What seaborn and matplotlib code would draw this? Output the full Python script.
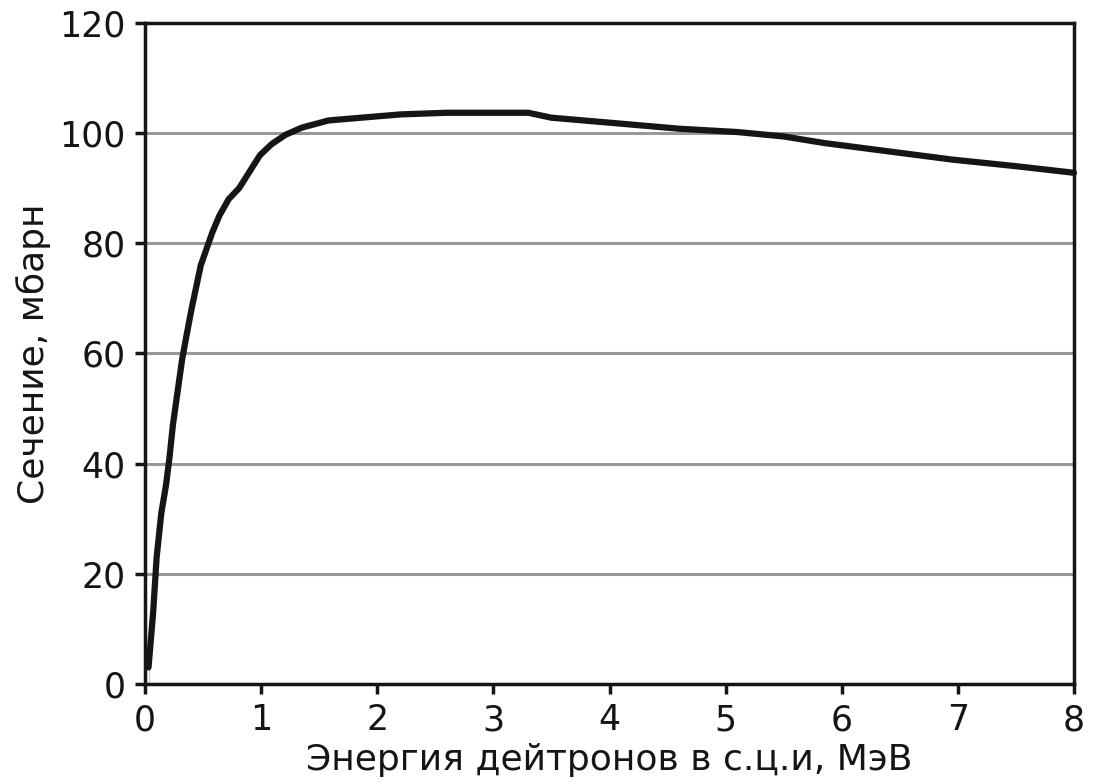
import matplotlib
matplotlib.use("Agg")
import matplotlib.pyplot as plt
import seaborn as sns
import pandas as pd

# energy of deuterons (MeV) and cross section (mbarn)
energy = [0.03, 0.03, 0.07, 0.10, 0.14, 0.18, 0.21, 0.24, 0.28, 0.32,
          0.355, 0.40, 0.44, 0.48, 0.53, 0.58, 0.64, 0.72, 0.81, 0.90,
          0.99, 1.09, 1.21, 1.35, 1.58, 1.86, 2.2, 2.6, 3.0, 3.3,
          3.5, 4.0, 4.6, 5.1, 5.5, 5.85, 6.4, 6.95, 7.5, 8.0]
cross_section = [0, 6, 13, 23, 31, 36, 41, 47, 53, 59,
                 63, 68, 72, 76, 79, 82, 85, 88, 90, 93,
                 96, 98, 99.7, 101, 102.3, 102.8, 103.4, 103.7, 103.7, 103.7,
                 102.8, 101.9, 100.8, 100.2, 99.4, 98.2, 96.7, 95.2, 94.0, 92.8]

x_ticks = [0, 1, 2, 3, 4, 5, 6, 7, 8]
y_ticks = [0, 20, 40, 60, 80, 100, 120]

df = pd.DataFrame({"E": energy, "sigma": cross_section})

sns.set_style("ticks")
plt.rcParams["font.family"] = ["DejaVu Sans"]

fig = plt.figure(figsize=(11.02, 7.84), dpi=100)
ax = fig.add_axes([0.1316, 0.1276, 0.8430, 0.8431])

# curve drawn unclipped so that it reaches the x axis like in the original
sns.lineplot(data=df, x="E", y="sigma", sort=False, color="#151515",
             linewidth=4.5, ax=ax, zorder=3, clip_on=False)

ax.set_xlim(0, 8)
ax.set_ylim(0, 120)
ax.set_xticks(x_ticks)
ax.set_yticks(y_ticks)
ax.yaxis.grid(True, color="#999999", linewidth=2.2)
ax.set_axisbelow(True)

for side in ["left", "right", "top", "bottom"]:
    ax.spines[side].set_visible(True)
    ax.spines[side].set_color("#151515")
    ax.spines[side].set_linewidth(2.5)

ax.tick_params(axis="both", direction="out", length=7, width=2.5,
               color="#151515", labelsize=25, labelcolor="#151515", pad=7)
ax.set_xlabel("Энергия дейтронов в с.ц.и, МэВ", fontsize=26,
              color="#151515", labelpad=4)
ax.set_ylabel("Сечение, мбарн", fontsize=26, color="#151515", labelpad=6)

fig.savefig("out.png", dpi=100)
